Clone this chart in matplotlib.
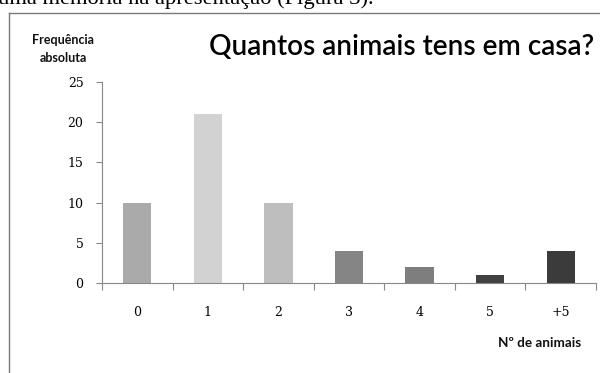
import matplotlib
matplotlib.use("Agg")
import matplotlib.pyplot as plt
from matplotlib.lines import Line2D

categories = ["0", "1", "2", "3", "4", "5", "+5"]
values = [10, 21, 10, 4, 2, 1, 4]
colors = ["#aaaaaa", "#d2d2d2", "#bebebe", "#858585", "#7e7e7e", "#404040", "#3b3b3b"]
yticks = [0, 5, 10, 15, 20, 25]

W, H = 600, 373
fig = plt.figure(figsize=(6, 3.73), dpi=100)
fig.patch.set_facecolor("white")

def fx(x):
    return x / W

def fy(y):
    return 1 - y / H

def pt(px):
    return px * 72 / 100

# axes: left 102, right 596, top 82, bottom 283 (pixels)
ax = fig.add_axes([fx(102), fy(283), fx(596) - fx(102), (283 - 82) / H])
xs = list(range(len(categories)))
ax.bar(xs, values, width=0.4, color=colors, edgecolor="none")
ax.set_xlim(-0.5, len(categories) - 0.5)
ax.set_ylim(0, 25)
ax.set_yticks(yticks)
ax.set_yticklabels([str(t) for t in yticks], fontfamily="DejaVu Serif", fontsize=pt(12.5))
ax.set_xticks(xs)
ax.set_xticklabels(categories, fontfamily="DejaVu Serif", fontsize=pt(12.5))
ax.tick_params(axis="x", length=0, pad=pt(23))
ax.tick_params(axis="y", length=4, width=0.8, color="#888888", pad=pt(13))
ax.set_xticks([i - 0.5 for i in range(len(categories) + 1)], minor=True)
ax.tick_params(axis="x", which="minor", length=5, width=0.8, color="#888888", direction="out")
for s in ["top", "right"]:
    ax.spines[s].set_visible(False)
for s in ["left", "bottom"]:
    ax.spines[s].set_color("#888888")
    ax.spines[s].set_linewidth(0.8)

# texts
fig.text(fx(402), fy(47), "Quantos animais tens em casa?", fontfamily="Lato", fontweight="semibold",
         fontsize=pt(28), ha="center", va="center", color="#000000")
fig.text(fx(63), fy(40), "Frequência", fontfamily="Lato", fontweight="bold",
         fontsize=pt(12.5), ha="center", va="center", color="#111111")
fig.text(fx(63), fy(58), "absoluta", fontfamily="Lato", fontweight="bold",
         fontsize=pt(12.5), ha="center", va="center", color="#111111")
fig.text(fx(540), fy(343), "Nº de animais", fontfamily="Lato", fontweight="bold",
         fontsize=pt(13.5), ha="center", va="center", color="#111111")

# clipped document text at top
fig.text(fx(-2), fy(4), "uma memória na apresentação (Figura 3).", fontfamily="Liberation Serif",
         fontsize=pt(22.5), ha="left", va="baseline", color="#000000")

# frame (left and top borders)
fig.add_artist(Line2D([fx(8.5), fx(8.5)], [fy(13), 0], transform=fig.transFigure, color="#7a7a7a", lw=1.0))
fig.add_artist(Line2D([fx(8.5), 1], [fy(13), fy(13)], transform=fig.transFigure, color="#7a7a7a", lw=1.0))

fig.savefig("out.png", dpi=100, facecolor="white")
